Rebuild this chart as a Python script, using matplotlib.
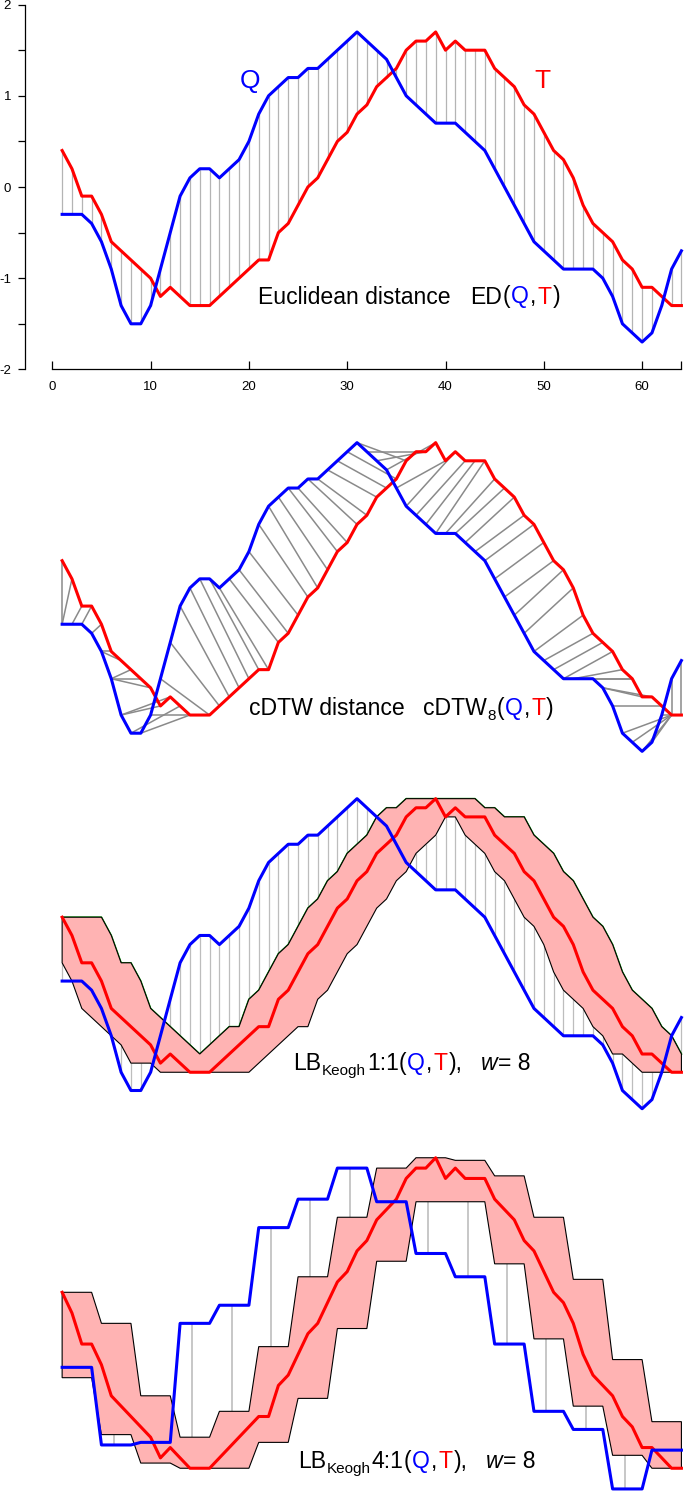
import numpy as np
import matplotlib
matplotlib.use("Agg")
import matplotlib.pyplot as plt
from matplotlib.collections import LineCollection
from matplotlib.transforms import IdentityTransform

plt.rcParams['font.family'] = ['Liberation Sans', 'DejaVu Sans']
plt.rcParams['axes.unicode_minus'] = False

# series (index 1..64)
Q = [-0.3, -0.3, -0.3, -0.4, -0.6, -0.9, -1.3, -1.5, -1.5, -1.3,
     -0.9, -0.5, -0.1, 0.1, 0.2, 0.2, 0.1, 0.2, 0.3, 0.5,
     0.8, 1.0, 1.1, 1.2, 1.2, 1.3, 1.3, 1.4, 1.5, 1.6,
     1.7, 1.6, 1.5, 1.4, 1.2, 1.0, 0.9, 0.8, 0.7, 0.7,
     0.7, 0.6, 0.5, 0.4, 0.2, 0.0, -0.2, -0.4, -0.6, -0.7,
     -0.8, -0.9, -0.9, -0.9, -0.9, -1.0, -1.2, -1.5, -1.6, -1.7,
     -1.6, -1.3, -0.9, -0.7]
T = [0.4, 0.2, -0.1, -0.1, -0.3, -0.6, -0.7, -0.8, -0.9, -1.0,
     -1.2, -1.1, -1.2, -1.3, -1.3, -1.3, -1.2, -1.1, -1.0, -0.9,
     -0.8, -0.8, -0.5, -0.4, -0.2, 0.0, 0.1, 0.3, 0.5, 0.6,
     0.8, 0.9, 1.1, 1.2, 1.3, 1.5, 1.6, 1.6, 1.7, 1.5,
     1.6, 1.5, 1.5, 1.5, 1.3, 1.2, 1.1, 0.9, 0.8, 0.6,
     0.4, 0.3, 0.1, -0.2, -0.4, -0.5, -0.6, -0.8, -0.9, -1.1,
     -1.1, -1.2, -1.3, -1.3]
x_ticks = [0, 10, 20, 30, 40, 50, 60, 64]
x_labels = ['0', '10', '20', '30', '40', '50', '60', '']
y_ticks = [-2, -1.5, -1, -0.5, 0, 0.5, 1, 1.5, 2]
y_labels = ['-2', '', '-1', '', '0', '', '1', '', '2']
win = 8        # envelope window (points)
band = 5       # cDTW band (8% of 64)
paa = 4        # 4:1 reduction

Q = np.array(Q)
T = np.array(T)
n = len(Q)
idx = np.arange(1, n + 1)

BLUE = '#0000ff'
RED = '#ff0000'
PINK = '#ffb3b3'

W, H = 685, 1492
X0, SX = 52.3, 9.83   # pixel of x=0, pixels per step
fig = plt.figure(figsize=(W / 100, H / 100), dpi=100)


def panel(y0, s, ylo, yhi):
    lpx, rpx = 25, W
    tpx, bpx = y0 - s * yhi, y0 - s * ylo
    ax = fig.add_axes([lpx / W, 1 - bpx / H, (rpx - lpx) / W, (bpx - tpx) / H])
    ax.set_xlim((lpx - X0) / SX, (rpx - X0) / SX)
    ax.set_ylim(ylo, yhi)
    ax.patch.set_visible(False)
    return ax


# envelope of T over an 8 point window, and DTW path
U = np.array([T[max(0, k - win // 2):k + win // 2].max() for k in range(n)])
L = np.array([T[max(0, k - win // 2):k + win // 2].min() for k in range(n)])


def dtw_path(a, b, r):
    D = np.full((n + 1, n + 1), np.inf)
    D[0, 0] = 0
    for i in range(1, n + 1):
        for j in range(max(1, i - r), min(n, i + r) + 1):
            D[i, j] = (a[i - 1] - b[j - 1]) ** 2 + min(D[i - 1, j], D[i, j - 1], D[i - 1, j - 1])
    i, j = n, n
    path = [(i, j)]
    while (i, j) != (1, 1):
        opts = [(D[i - 1, j - 1], i - 1, j - 1), (D[i - 1, j], i - 1, j), (D[i, j - 1], i, j - 1)]
        _, i, j = min(opts, key=lambda o: o[0])
        path.append((i, j))
    return path[::-1]


# ---- panel 1: Euclidean
ax1 = panel(187, 91.2, -2, 2)
ax1.vlines(idx, Q, T, color='#b4b4b4', lw=0.9, zorder=1)
ax1.plot(idx, T, color=RED, lw=2.2, zorder=3)
ax1.plot(idx, Q, color=BLUE, lw=2.2, zorder=4)
for sp in ['top', 'right']:
    ax1.spines[sp].set_visible(False)
ax1.spines['left'].set_bounds(-2, 2)
ax1.spines['bottom'].set_bounds(0, 64)
for sp in ['left', 'bottom']:
    ax1.spines[sp].set_linewidth(0.9)
ax1.set_xticks(x_ticks)
ax1.set_xticklabels(x_labels, fontsize=9.5)
ax1.set_yticks(y_ticks)
ax1.set_yticklabels(y_labels, fontsize=9.5)
ax1.tick_params(axis='x', direction='in', length=6, width=0.9, pad=8)
ax1.tick_params(axis='y', direction='out', length=5, width=0.9, pad=5)

# ---- panel 2: cDTW
ax2 = panel(597, 90.8, -2, 2)
ax2.axis('off')
segs = [[(i, Q[i - 1]), (j, T[j - 1])] for i, j in dtw_path(Q, T, band)]
ax2.add_collection(LineCollection(segs, colors='#8a8a8a', linewidths=1.1, zorder=1))
ax2.plot(idx, T, color=RED, lw=2.2, zorder=3)
ax2.plot(idx, Q, color=BLUE, lw=2.2, zorder=4)

# ---- panel 3: LB_Keogh 1:1
ax3 = panel(953.7, 91.2, -2, 2)
ax3.axis('off')
clip3 = np.clip(Q, L, U)
m = Q != clip3
ax3.vlines(idx[m], Q[m], clip3[m], color='#bdbdbd', lw=0.9, zorder=1)
ax3.plot(idx, U, color='#00a000', lw=1.2, zorder=2)
ax3.fill(np.r_[idx, idx[::-1]], np.r_[U, L[::-1]], facecolor=PINK,
         edgecolor='black', lw=0.8, zorder=2)
ax3.plot(idx, T, color=RED, lw=2.2, zorder=3)
ax3.plot(idx, Q, color=BLUE, lw=2.2, zorder=4)

# ---- panel 4: LB_Keogh 4:1
ax4 = panel(1333.7, 103.5, -1.8, 1.8)
ax4.axis('off')
Qp = Q.reshape(-1, paa).mean(1)
Up = U.reshape(-1, paa).mean(1)
Lp = L.reshape(-1, paa).mean(1)
Qs, Us, Ls = np.repeat(Qp, paa), np.repeat(Up, paa), np.repeat(Lp, paa)
seg_x = np.arange(len(Qp)) * paa + 2.25
clip4 = np.clip(Qp, Lp, Up)
m4 = Qp != clip4
ax4.vlines(seg_x[m4], Qp[m4], clip4[m4], color='#b8b8b8', lw=1.1, zorder=1)
ax4.fill(np.r_[idx, idx[::-1]], np.r_[Us, Ls[::-1]], facecolor=PINK,
         edgecolor='black', lw=0.8, zorder=2)
ax4.plot(idx, T, color=RED, lw=2.2, zorder=3)
ax4.plot(idx, Qs, color=BLUE, lw=2.2, zorder=4, clip_on=False)

# ---- labels
fig.text(250.3 / W, 1 - 80.8 / H, 'Q', color=BLUE, fontsize=19, ha='center', va='center')
fig.text(542 / W, 1 - 80.8 / H, 'T', color=RED, fontsize=19, ha='center', va='center')

rend = fig.canvas.get_renderer()


def rich(x, ybase, parts, size=16.6):
    for s, c, kind, gap in parts:
        fs = size * 0.66 if kind == 's' else size
        dy = -5 if kind == 's' else 0
        t = fig.text(x, H - ybase + dy, s, color=c, fontsize=fs,
                     style='italic' if kind == 'i' else 'normal',
                     ha='left', va='baseline', transform=IdentityTransform())
        x += t.get_window_extent(rend).width + gap + 1


qt = [('(', 'k', 'n', 0), ('Q', BLUE, 'n', 0), (',', 'k', 'n', 0), ('T', RED, 'n', 0)]
rich(258, 303.5, [('Euclidean distance', 'k', 'n', 19), ('ED', 'k', 'n', -1)] + qt + [(')', 'k', 'n', 0)])
rich(249, 715, [('cDTW distance', 'k', 'n', 17), ('cDTW', 'k', 'n', 0), ('8', 'k', 's', -1)] + qt + [(')', 'k', 'n', 0)])
rich(292.7, 1070, [('LB', 'k', 'n', 0), ('Keogh', 'k', 's', 0), ('1:1', 'k', 'n', -1)] + qt
     + [('),', 'k', 'n', 17), ('w', 'k', 'i', 0), ('= 8', 'k', 'n', 0)])
rich(297.7, 1468.3, [('LB', 'k', 'n', 0), ('Keogh', 'k', 's', 0), ('4:1', 'k', 'n', -1)] + qt
     + [('),', 'k', 'n', 17), ('w', 'k', 'i', 0), ('= 8', 'k', 'n', 0)])

fig.savefig('out.png', dpi=100)
